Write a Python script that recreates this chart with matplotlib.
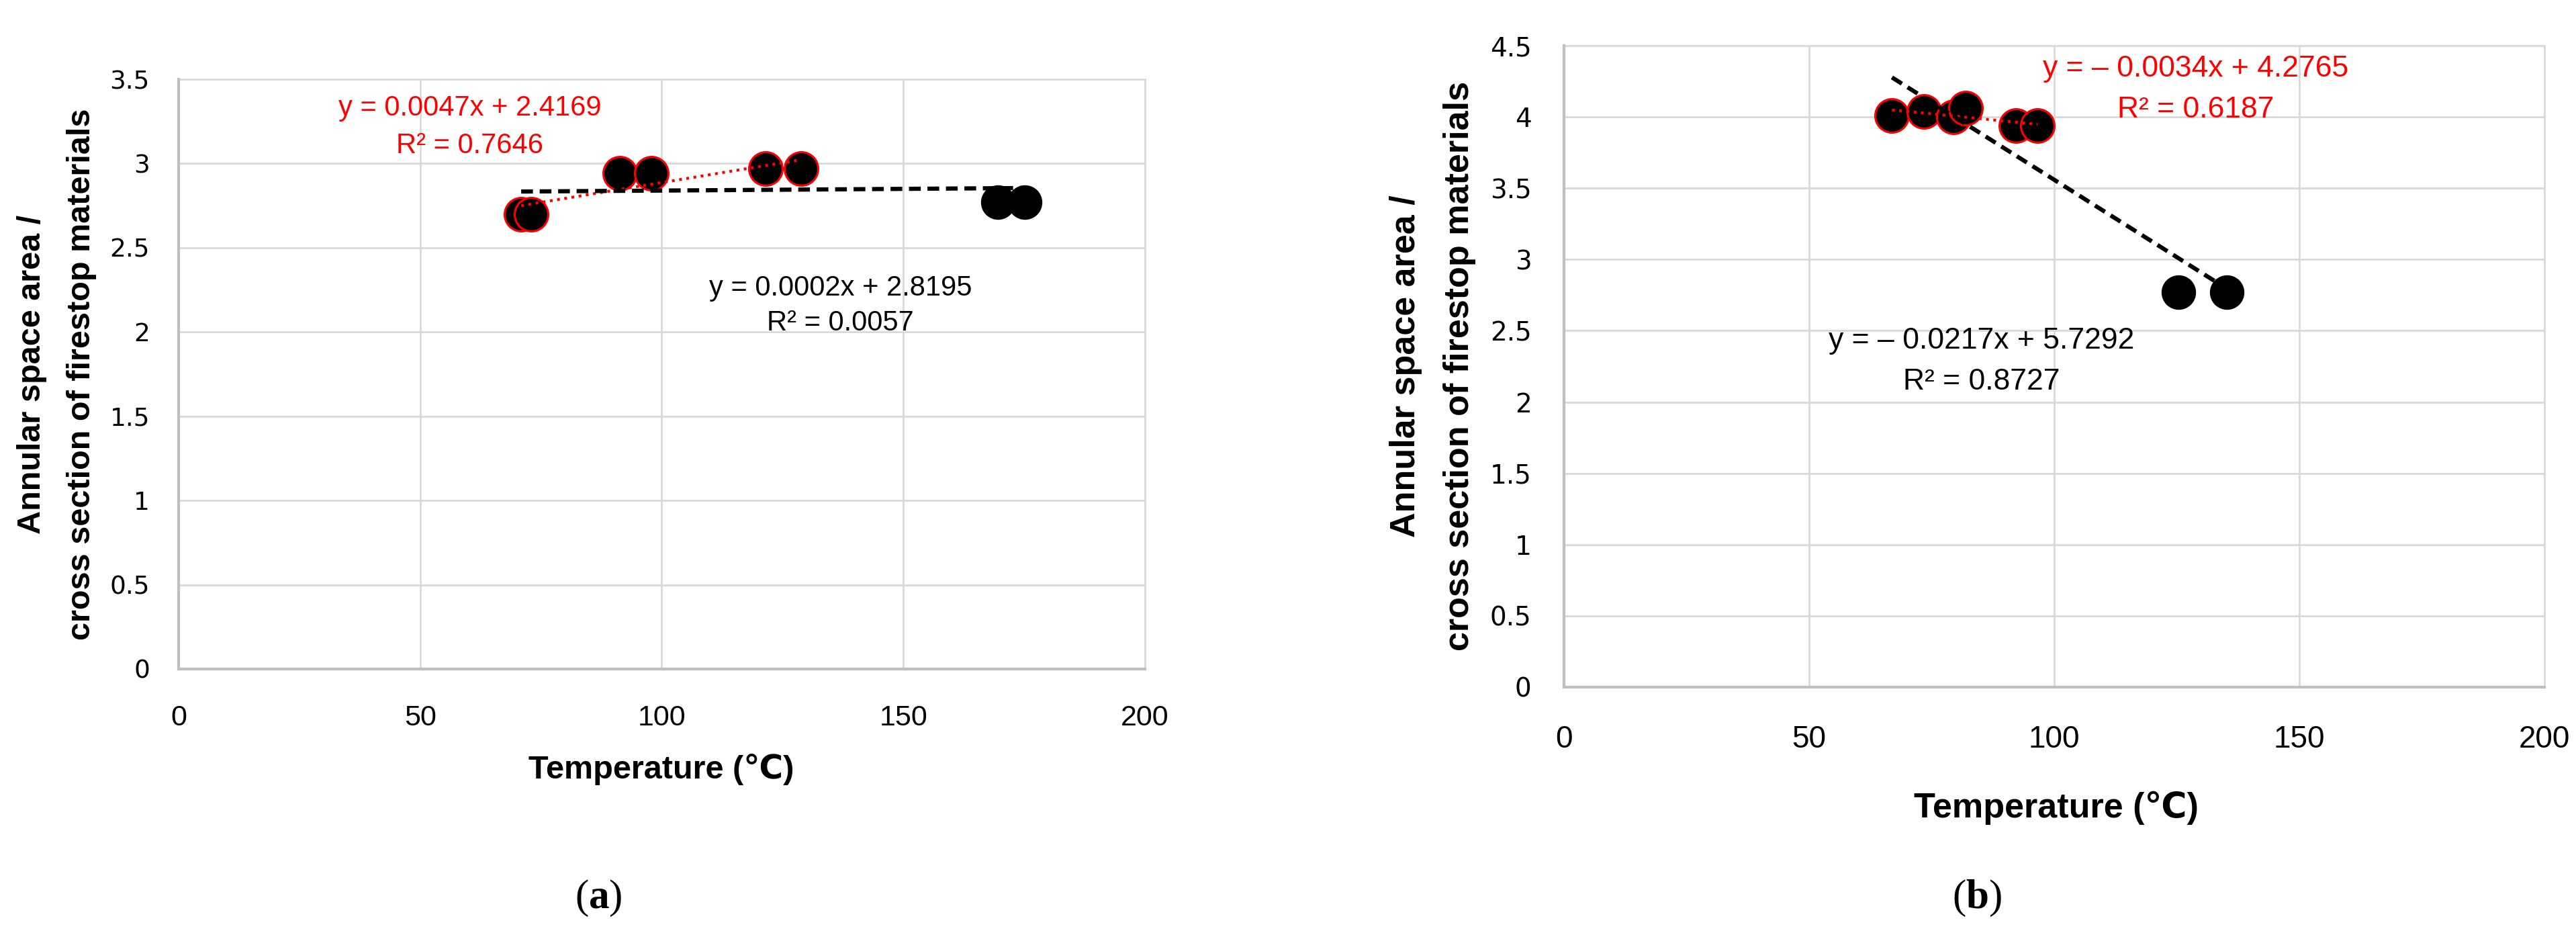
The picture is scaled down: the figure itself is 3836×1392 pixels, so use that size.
import numpy as np
import matplotlib
matplotlib.use('Agg')
import matplotlib.pyplot as plt

plt.rcParams['font.family'] = ['Liberation Sans', 'DejaVu Sans']
plt.rcParams['mathtext.fontset'] = 'custom'
plt.rcParams['mathtext.rm'] = 'Liberation Serif'
plt.rcParams['mathtext.bf'] = 'Liberation Serif:bold'

# 数据 (a)
a_red_x = [70.9, 73.0, 91.3, 97.8, 121.5, 128.8]
a_red_y = [2.70, 2.70, 2.94, 2.94, 2.97, 2.97]
a_black_x = [169.5, 175.1]
a_black_y = [2.77, 2.77]
a_red_fit = [0.0047, 2.4169]
a_all_fit = [0.0002, 2.8195]
a_red_eq = ['y = 0.0047x + 2.4169', 'R² = 0.7646']
a_all_eq = ['y = 0.0002x + 2.8195', 'R² = 0.0057']
a_y_ticks = [0, 0.5, 1, 1.5, 2, 2.5, 3, 3.5]

# 数据 (b)
b_red_x = [66.9, 73.4, 79.5, 81.9, 92.2, 96.6]
b_red_y = [4.01, 4.04, 4.00, 4.06, 3.94, 3.94]
b_black_x = [125.3, 135.2]
b_black_y = [2.77, 2.77]
b_red_fit = [-0.0034, 4.2765]
b_all_fit = [-0.0217, 5.7292]
b_red_eq = ['y = \u2013 0.0034x + 4.2765', 'R² = 0.6187']
b_all_eq = ['y = \u2013 0.0217x + 5.7292', 'R² = 0.8727']
b_y_ticks = [0, 0.5, 1, 1.5, 2, 2.5, 3, 3.5, 4, 4.5]

x_ticks = [0, 50, 100, 150, 200]

W, H = 3836, 1392
fig = plt.figure(figsize=(W / 100, H / 100), dpi=100)


def fx(px):
    return px / W


def fy(py):
    return 1 - py / H


def panel(ax, yticks, rx, ry, kx, ky, rfit, afit, req, aeq, rpos, apos,
          fs_x, fs_y, fs_eq, pad_x, pad_y):
    ax.set_xlim(0, 200)
    ax.set_ylim(0, yticks[-1])
    # 网格线
    for v in yticks[1:]:
        ax.axhline(v, color='#d9d9d9', lw=2, zorder=0, clip_on=False)
    for v in x_ticks[1:]:
        ax.axvline(v, color='#d9d9d9', lw=2, zorder=0, clip_on=False)
    for s in ['top', 'right']:
        ax.spines[s].set_visible(False)
    for s in ['left', 'bottom']:
        ax.spines[s].set_color('#bfbfbf')
        ax.spines[s].set_linewidth(3)
    ax.set_xticks(x_ticks)
    ax.set_xticklabels([f'{v:g}' for v in x_ticks])
    ax.set_yticks(yticks)
    ax.set_yticklabels([f'{v:g}' for v in yticks], family='DejaVu Sans')
    ax.tick_params(axis='x', length=0, labelsize=fs_x, pad=pad_x, colors='#000000')
    ax.tick_params(axis='y', length=0, labelsize=fs_y, pad=pad_y, colors='#000000')

    # 散点
    ax.plot(rx, ry, 'o', ms=36, mfc='black', mec='red', mew=2.2, zorder=3, clip_on=False)
    ax.plot(kx, ky, 'o', ms=36, mfc='black', mec='black', mew=1, zorder=3, clip_on=False)

    # 趋势线
    xr = np.array([min(rx), max(rx)])
    ax.plot(xr, rfit[0] * xr + rfit[1], color='red', lw=3, ls=(0, (1, 1.6)), zorder=4)
    allx = rx + kx
    xa = np.array([min(allx), max(allx)])
    ax.plot(xa, afit[0] * xa + afit[1], color='black', lw=4.5, ls=(0, (2.8, 1.6)), zorder=4)

    # 公式
    for i, t in enumerate(req):
        ax.text(rpos[0], rpos[1][i], t, color='red', fontsize=fs_eq,
                ha='center', va='baseline', zorder=5)
    for i, t in enumerate(aeq):
        ax.text(apos[0], apos[1][i], t, color='black', fontsize=fs_eq,
                ha='center', va='baseline', zorder=5)


ax1 = fig.add_axes([fx(266), fy(996), fx(1705) - fx(266), fy(118) - fy(996)])
panel(ax1, a_y_ticks, a_red_x, a_red_y, a_black_x, a_black_y, a_red_fit, a_all_fit,
      a_red_eq, a_all_eq, (60.3, [3.284, 3.061]), (137.0, [2.216, 2.009]),
      31, 27, 30, 38, 31)

ax2 = fig.add_axes([fx(2329), fy(1023), fx(3789) - fx(2329), fy(68) - fy(1023)])
panel(ax2, b_y_ticks, b_red_x, b_red_y, b_black_x, b_black_y, b_red_fit, b_all_fit,
      b_red_eq, b_all_eq, (128.9, [4.284, 3.996]), (85.2, [2.375, 2.088]),
      33, 28, 32, 40, 35)

# 坐标轴标题
ylab = ['Annular space area /', 'cross section of firestop materials']
fig.text(fx(48), fy(557), ylab[0], rotation=90, ha='center', va='center', fontsize=35, fontweight='bold')
fig.text(fx(122), fy(557), ylab[1], rotation=90, ha='center', va='center', fontsize=35, fontweight='bold')
fig.text(fx(2093), fy(545), ylab[0], rotation=90, ha='center', va='center', fontsize=37.5, fontweight='bold')
fig.text(fx(2173), fy(545), ylab[1], rotation=90, ha='center', va='center', fontsize=37.5, fontweight='bold')

fig.text(fx(985), fy(1145), 'Temperature (\u2103)', ha='center', va='center', fontsize=35, fontweight='bold')
fig.text(fx(3062), fy(1203), 'Temperature (\u2103)', ha='center', va='center', fontsize=37.5, fontweight='bold')

fig.text(fx(891), fy(1337), r'($\mathbf{a}$)', ha='center', va='center', fontsize=44, family='Liberation Serif')
fig.text(fx(2944), fy(1337), r'($\mathbf{b}$)', ha='center', va='center', fontsize=44, family='Liberation Serif')

fig.savefig('out.png', dpi=100)
